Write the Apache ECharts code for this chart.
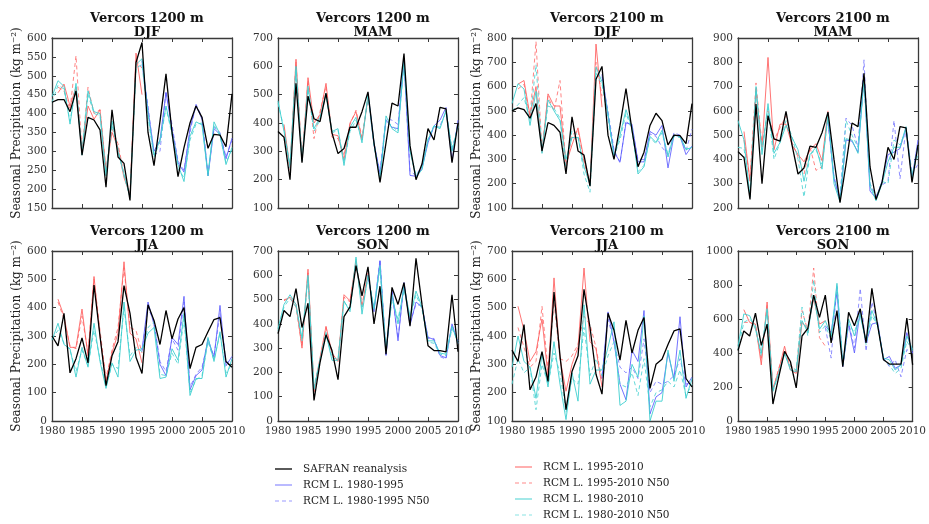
<!DOCTYPE html>
<html><head><meta charset="utf-8">
<script src="https://cdn.jsdelivr.net/npm/echarts@6/dist/echarts.min.js"></script>
<style>html,body{margin:0;padding:0;background:#fff}#c{width:929px;height:524px}</style>
</head><body><div id="c"></div>
<script>
const YEARS = [1980,1981,1982,1983,1984,1985,1986,1987,1988,1989,1990,1991,1992,1993,1994,1995,1996,1997,1998,1999,2000,2001,2002,2003,2004,2005,2006,2007,2008,2009,2010];
const RED_YEARS = [1981,1982,1983,1984,1985,1986,1987,1988,1989,1990,1991,1992,1993,1994,1995];
const BLUE_YEARS = [1995,1996,1997,1998,1999,2000,2001,2002,2003,2004,2005,2006,2007,2008,2009,2010];

const NAMES = ['SAFRAN reanalysis','RCM L. 1980-1995','RCM L. 1980-1995 N50','RCM L. 1995-2010','RCM L. 1995-2010 N50','RCM L. 1980-2010','RCM L. 1980-2010 N50'];

// Panel 1: Vercors 1200 m DJF
const p1_safran = [430,437,437,405,460,290,390,383,357,205,410,285,268,170,535,588,350,262,380,505,350,233,310,375,420,390,308,345,343,312,452];
const p1_c = [445,487,472,372,480,290,460,405,400,235,380,300,240,178,530,545,400,290,330,420,350,265,220,340,378,370,235,378,345,265,310];
const p1_cd = [430,475,465,380,470,295,450,400,395,245,370,305,235,180,520,530,390,285,325,415,345,255,230,330,372,375,240,370,340,270,305];
const p1_r = [455,478,420,470,300,420,385,410,250,350,310,230,185,560,450];
const p1_rd = [470,460,410,553,300,470,400,410,250,360,320,240,185,540,520];
const p1_b = [540,410,300,330,455,360,270,245,360,422,385,235,360,345,280,335];
const p1_bd = [530,420,290,300,460,370,275,250,350,425,390,240,365,350,285,330];

// Panel 2: Vercors 1200 m MAM
const p2_safran = [370,350,200,540,260,495,415,405,505,365,292,310,385,385,440,510,330,190,330,470,460,645,320,200,255,380,340,455,450,260,400];
const p2_c = [478,370,250,600,265,530,380,420,505,370,380,250,385,420,330,500,330,200,425,380,365,620,300,210,235,340,390,380,445,300,390];
const p2_cd = [470,380,240,590,270,520,370,410,500,365,375,260,370,410,340,495,320,205,410,390,370,610,305,215,245,345,390,385,440,310,385];
const p2_r = [395,240,625,265,560,400,430,540,360,355,270,400,440,340,490];
const p2_rd = [385,235,615,270,550,345,440,530,350,345,285,395,445,350,480];
const p2_b = [505,330,220,410,385,380,625,215,212,240,330,390,410,455,265,410];
const p2_bd = [500,320,230,415,410,395,620,230,215,250,340,385,390,440,300,395];

// Panel 3: Vercors 2100 m DJF
const p3_safran = [500,512,505,470,530,335,452,440,412,240,475,335,318,190,630,683,400,300,440,592,420,270,330,440,490,460,360,400,398,365,530];
const p3_c = [530,612,590,440,580,325,545,500,460,300,390,390,270,195,680,620,490,310,400,505,430,240,270,395,370,420,310,400,395,340,350];
const p3_cd = [500,525,555,460,690,345,520,510,470,260,420,400,240,165,655,610,470,315,380,490,420,250,275,390,365,410,320,395,390,345,345];
const p3_r = [610,625,480,600,330,570,520,520,280,360,430,300,200,775,515];
const p3_rd = [590,610,470,785,335,560,500,625,260,400,420,290,195,700,560];
const p3_b = [650,480,330,290,450,445,290,290,415,400,440,265,400,395,320,355];
const p3_bd = [640,500,340,285,460,430,300,300,405,395,350,320,410,400,335,425];

// Panel 4: Vercors 2100 m MAM
const p4_safran = [432,408,235,628,300,580,485,475,598,460,340,365,455,450,510,595,400,222,380,550,535,755,370,235,305,450,400,535,530,305,460];
const p4_c = [560,480,245,700,420,630,425,470,540,490,440,310,420,450,360,590,300,225,485,480,425,735,290,230,300,390,450,450,535,320,455];
const p4_cd = [450,445,250,685,440,610,400,470,560,495,400,245,420,440,380,570,330,235,560,500,450,720,300,240,310,300,480,460,520,340,420];
const p4_r = [515,310,680,450,820,440,545,545,460,420,390,440,465,395,600];
const p4_rd = [480,320,715,460,600,480,530,580,470,410,340,450,355,370,590];
const p4_b = [560,320,230,480,475,430,740,270,240,310,420,430,445,530,320,480];
const p4_bd = [550,330,240,570,540,450,810,300,250,295,310,560,320,530,340,380];

// Panel 5: Vercors 1200 m JJA
const p5_safran = [300,265,380,170,220,293,205,480,300,125,230,280,478,380,225,168,410,355,270,390,290,360,400,185,260,270,315,358,365,210,190];
const p5_c = [285,345,270,255,155,260,190,345,210,115,205,155,420,210,250,255,310,330,150,155,255,215,380,90,150,150,295,210,315,155,220];
const p5_cd = [290,320,275,250,175,250,195,320,220,120,200,185,400,230,260,245,330,350,165,160,240,200,360,100,145,160,280,215,310,170,200];
const p5_r = [430,370,260,260,395,230,510,300,140,240,310,562,310,290,205];
const p5_rd = [420,360,265,255,370,240,500,320,150,250,330,540,330,320,240];
const p5_b = [250,420,340,200,160,295,270,440,110,160,180,290,225,408,195,228];
const p5_bd = [245,400,350,210,175,290,250,420,120,165,190,280,230,380,205,215];

// Panel 6: Vercors 1200 m SON
const p6_safran = [360,455,430,545,385,485,85,240,355,290,170,430,470,640,515,635,400,555,275,550,480,570,390,670,480,310,290,290,285,520,285];
const p6_c = [380,480,520,480,340,600,130,250,360,250,250,495,450,675,440,600,460,640,290,520,400,555,430,535,470,330,330,280,275,390,320];
const p6_cd = [370,470,505,470,330,590,140,255,365,260,255,490,460,665,460,590,470,630,285,500,420,540,420,520,460,325,320,275,270,380,330];
const p6_r = [495,510,480,300,625,120,260,390,280,245,520,495,660,470,610];
const p6_rd = [500,505,470,310,610,130,250,385,275,250,510,490,655,480,600];
const p6_b = [600,450,660,270,540,330,570,395,490,470,345,335,270,260,400,320];
const p6_bd = [590,460,665,275,530,340,560,405,480,475,340,340,265,255,395,330];

// Panel 7: Vercors 2100 m JJA
const p7_safran = [350,310,440,210,255,345,240,555,330,140,275,330,565,430,265,195,480,420,315,455,340,420,465,215,300,318,370,418,425,250,220];
const p7_c = [290,400,310,290,180,335,220,380,230,105,270,170,510,230,280,280,360,450,155,170,300,255,470,100,170,170,350,240,350,180,250];
const p7_cd = [230,320,270,290,140,300,230,340,270,130,250,230,430,260,320,260,330,380,230,220,270,190,320,150,200,210,240,220,280,190,230];
const p7_r = [505,420,310,345,460,260,605,320,205,300,360,640,380,355,220];
const p7_rd = [430,360,290,310,505,280,520,320,310,330,370,470,440,360,240];
const p7_b = [250,485,380,230,175,350,310,490,125,185,200,340,250,468,220,255];
const p7_bd = [260,460,380,290,270,290,250,390,200,240,230,240,260,320,230,240];

// Panel 8: Vercors 2100 m SON
const p8_safran = [415,530,500,635,445,570,100,260,410,350,195,500,545,740,610,740,460,650,320,640,560,660,460,780,560,360,335,335,335,605,330];
const p8_c = [440,630,620,540,400,650,180,280,400,300,290,590,520,740,540,590,500,810,330,600,500,620,470,650,560,370,360,300,330,500,420];
const p8_cd = [420,580,600,560,380,670,170,290,390,320,300,670,500,830,520,560,480,790,330,570,520,640,450,620,560,360,330,280,310,470,410];
const p8_r = [655,580,570,330,700,190,300,440,300,280,580,540,720,570,590];
const p8_rd = [580,580,560,360,680,180,310,420,330,290,650,530,900,490,440];
const p8_b = [560,520,760,320,570,400,650,460,570,580,360,380,310,330,520,400];
const p8_bd = [550,370,800,330,580,430,780,410,700,560,370,320,360,260,420,400];

const PANELS = [
  {t1:'Vercors 1200 m', t2:'DJF', y:[150,600,50], s:[p1_safran,p1_b,p1_bd,p1_r,p1_rd,p1_c,p1_cd]},
  {t1:'Vercors 1200 m', t2:'MAM', y:[100,700,100], s:[p2_safran,p2_b,p2_bd,p2_r,p2_rd,p2_c,p2_cd]},
  {t1:'Vercors 2100 m', t2:'DJF', y:[100,800,100], s:[p3_safran,p3_b,p3_bd,p3_r,p3_rd,p3_c,p3_cd]},
  {t1:'Vercors 2100 m', t2:'MAM', y:[200,900,100], s:[p4_safran,p4_b,p4_bd,p4_r,p4_rd,p4_c,p4_cd]},
  {t1:'Vercors 1200 m', t2:'JJA', y:[0,600,100], s:[p5_safran,p5_b,p5_bd,p5_r,p5_rd,p5_c,p5_cd]},
  {t1:'Vercors 1200 m', t2:'SON', y:[0,700,100], s:[p6_safran,p6_b,p6_bd,p6_r,p6_rd,p6_c,p6_cd]},
  {t1:'Vercors 2100 m', t2:'JJA', y:[100,700,100], s:[p7_safran,p7_b,p7_bd,p7_r,p7_rd,p7_c,p7_cd]},
  {t1:'Vercors 2100 m', t2:'SON', y:[0,1000,200], s:[p8_safran,p8_b,p8_bd,p8_r,p8_rd,p8_c,p8_cd]}
];

// layout
const GRID_LEFT = [52,278,512,738];
const GRID_TOP = [38,251];
const GRID_W = 180, GRID_H = 170;
const FONT = 'DejaVu Serif';

const STYLES = [
  {color:'#000000', width:1.3, type:'solid', z:10, op:1, years:YEARS},
  {color:'#5a5aff', width:1, type:'solid', z:4, op:0.85, years:BLUE_YEARS},
  {color:'#7a7aff', width:1, type:[4,3], z:3, op:0.85, years:BLUE_YEARS},
  {color:'#ff5c5c', width:1, type:'solid', z:4, op:0.85, years:RED_YEARS},
  {color:'#ff6e6e', width:1, type:[4,3], z:3, op:0.85, years:RED_YEARS},
  {color:'#3fcfcf', width:1, type:'solid', z:5, op:0.9, years:YEARS},
  {color:'#55d5d5', width:1, type:[4,3], z:5, op:0.9, years:YEARS}
];
const LEGEND_COLORS = ['#000000','#8c8cff','#9a9aff','#ff7b7b','#ff8a8a','#66d9d9','#8ae3e3'];

const grids=[], xAxes=[], yAxes=[], series=[], titles=[];
const axisLineStyle = {color:'#3a3a3a', width:1.3};
const plain = v=>String(v);
PANELS.forEach((p,i)=>{
  const col=i%4, row=Math.floor(i/4);
  const left=GRID_LEFT[col], top=GRID_TOP[row];
  grids.push({left:left, top:top, width:GRID_W, height:GRID_H, containLabel:false});
  const gi=grids.length-1;
  const showX = row===1;
  xAxes.push({gridIndex:gi, type:'value', min:1980, max:2010, interval:5, position:'bottom',
    axisLine:{show:true,onZero:false,lineStyle:axisLineStyle},
    axisTick:{show:true,inside:true,length:4,lineStyle:{color:'#3a3a3a'}},
    axisLabel:{show:showX, fontFamily:FONT, fontSize:10.5, color:'#333', margin:5, formatter:plain},
    splitLine:{show:false}});
  xAxes.push({gridIndex:gi, type:'value', min:1980, max:2010, interval:5, position:'top',
    axisLine:{show:true,onZero:false,lineStyle:axisLineStyle},
    axisTick:{show:true,inside:true,length:4,lineStyle:{color:'#3a3a3a'}},
    axisLabel:{show:false}, splitLine:{show:false}});
  const yl = {gridIndex:gi, type:'value', min:p.y[0], max:p.y[1], interval:p.y[2], position:'left',
    axisLine:{show:true,onZero:false,lineStyle:axisLineStyle},
    axisTick:{show:true,inside:true,length:4,lineStyle:{color:'#3a3a3a'}},
    axisLabel:{show:true, fontFamily:FONT, fontSize:10.5, color:'#333', margin:5, formatter:plain},
    splitLine:{show:false}};
  if(col===0||col===2){
    yl.name='Seasonal Precipitation (kg m\u207B\u00B2)';
    yl.nameLocation='middle'; yl.nameGap=27;
    yl.nameTextStyle={fontFamily:FONT,fontSize:12,color:'#222'};
  }
  yAxes.push(yl);
  yAxes.push({gridIndex:gi, type:'value', min:p.y[0], max:p.y[1], interval:p.y[2], position:'right',
    axisLine:{show:true,onZero:false,lineStyle:axisLineStyle},
    axisTick:{show:true,inside:true,length:4,lineStyle:{color:'#3a3a3a'}},
    axisLabel:{show:false}, splitLine:{show:false}});
  titles.push({text:p.t1+'\n'+p.t2, left:left+GRID_W/2, top:row===0?7:220, textAlign:'center',
    textStyle:{fontFamily:FONT, fontWeight:'bold', fontSize:13, lineHeight:14, color:'#111'}});
  [3,4,1,2,6,5,0].forEach(k=>{
    const st=STYLES[k];
    const vals=p.s[k];
    series.push({name:NAMES[k], type:'line', xAxisIndex:2*gi, yAxisIndex:2*gi,
      data:st.years.map((yr,j)=>[yr,vals[j]]), showSymbol:false, symbol:'none', animation:false,
      z:st.z, lineStyle:{color:st.color,width:st.width,type:st.type,opacity:st.op},
      itemStyle:{color:st.color}, emphasis:{disabled:true}});
  });
});

// legend drawn as graphic: two columns
const LEG_COLS = [{x:275, y0:469, items:[0,1,2]},{x:515, y0:467, items:[3,4,5,6]}];
const graphics=[];
LEG_COLS.forEach(c=>{
  c.items.forEach((k,j)=>{
    const y=c.y0+j*16;
    graphics.push({type:'line', shape:{x1:c.x,y1:y,x2:c.x+17,y2:y},
      style:{stroke:LEGEND_COLORS[k], lineWidth:k===0?1.3:1.2, lineDash:STYLES[k].type==='solid'?null:[4,3]}});
    graphics.push({type:'text', x:c.x+28, y:y, style:{text:NAMES[k], fill:'#222',
      font:'10.5px "DejaVu Serif"', textVerticalAlign:'middle', verticalAlign:'middle'}});
  });
});

const chart=echarts.init(document.getElementById('c'),null,{renderer:'canvas'});
chart.setOption({
  animation:false,
  backgroundColor:'#fff',
  title:titles,
  grid:grids, xAxis:xAxes, yAxis:yAxes, series:series,
  graphic:graphics
});
</script></body></html>
